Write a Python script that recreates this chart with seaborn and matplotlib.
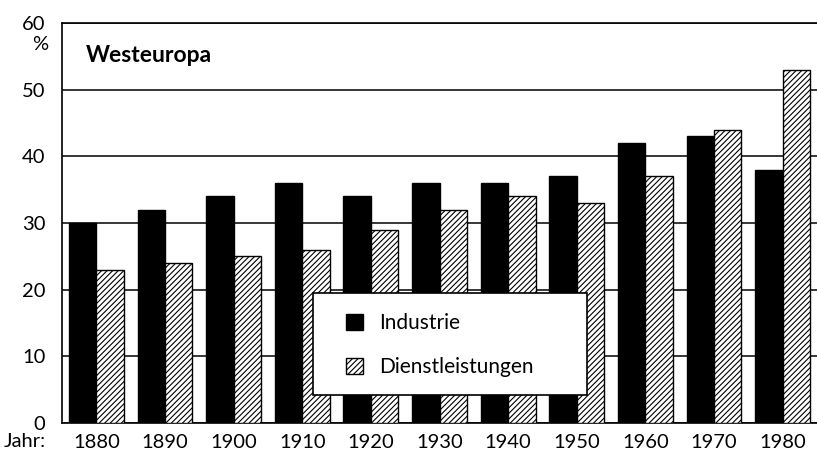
import matplotlib
matplotlib.use("Agg")
import matplotlib.pyplot as plt
import seaborn as sns
import pandas as pd
from matplotlib.patches import Patch, Rectangle

years = ["1880", "1890", "1900", "1910", "1920", "1930", "1940", "1950", "1960", "1970", "1980"]
industrie = [30, 32, 34, 36, 34, 36, 36, 37, 42, 43, 38]
dienst = [23, 24, 25, 26, 29, 32, 34, 33, 37, 44, 53]
series = ["Industrie", "Dienstleistungen"]
yticks = [0, 10, 20, 30, 40, 50, 60]

sns.set_theme(style="white")
plt.rcParams['font.family'] = ['Lato', 'DejaVu Sans']
plt.rcParams['hatch.linewidth'] = 0.8
for k in ["text.color", "xtick.color", "ytick.color", "axes.labelcolor", "axes.edgecolor"]:
    plt.rcParams[k] = "black"

df = pd.DataFrame({
    "Jahr": years * 2,
    "Wert": industrie + dienst,
    "Reihe": [series[0]] * len(years) + [series[1]] * len(years),
})

fig = plt.figure(figsize=(8.17, 4.61), dpi=100)
ax = fig.add_axes([62/817, 38/461, 755/817, 400/461])

sns.barplot(data=df, x="Jahr", y="Wert", hue="Reihe", palette=["black", "white"],
            edgecolor="black", linewidth=1.0, width=0.8, ax=ax, legend=False, zorder=3)

n = len(years)
for i, p in enumerate(ax.patches):
    if i >= n:
        p.set_hatch("//////")
        p.set_facecolor("white")
        p.set_edgecolor("black")

fs = 14.5
ax.set_xlim(-0.5, n - 0.5)
ax.set_ylim(0, 60)
ax.set_yticks(yticks)
ax.set_yticklabels([str(v) for v in yticks], fontsize=fs)
ax.set_xticks(range(n))
ax.set_xticklabels(years, fontsize=fs)
ax.set_xticks([i + 0.5 for i in range(n - 1)], minor=True)
ax.tick_params(axis="x", which="major", length=0, pad=8)
ax.tick_params(axis="x", which="minor", length=10, direction="inout", width=1.0, color="black")
ax.tick_params(axis="y", which="major", length=7, direction="out", width=1.0, color="black", pad=5)
ax.set_xlabel("")
ax.set_ylabel("")

ax.yaxis.grid(True, color="black", linewidth=1.1)
ax.set_axisbelow(True)
for s in ["left", "bottom", "top"]:
    ax.spines[s].set_visible(True)
    ax.spines[s].set_color("black")
    ax.spines[s].set_linewidth(1.2)
ax.spines["right"].set_visible(False)

ax.text(0.032, 0.92, "Westeuropa", transform=ax.transAxes, fontsize=16.5, fontweight="bold",
        ha="left", va="center")
fig.text(40/817, (461-44)/461, "%", fontsize=fs, ha="center", va="center")
fig.text(4/817, (461-441)/461, "Jahr:", fontsize=fs, ha="left", va="center")

# legend box
ax.add_patch(Rectangle((0.332, 0.07), 0.363, 0.255, transform=ax.transAxes,
                       facecolor="white", edgecolor="black", linewidth=1.2, zorder=9))
handles = [Patch(facecolor="black", edgecolor="black", label=series[0]),
           Patch(facecolor="white", edgecolor="black", hatch="//////", label=series[1])]
leg = ax.legend(handles=handles, loc="upper left", bbox_to_anchor=(0.376, 0.274),
                frameon=False, fontsize=15, borderpad=0, borderaxespad=0,
                labelspacing=1.15, handlelength=0.8, handleheight=0.85, handletextpad=0.8)
leg.set_zorder(10)

fig.savefig("out.png", dpi=100)
